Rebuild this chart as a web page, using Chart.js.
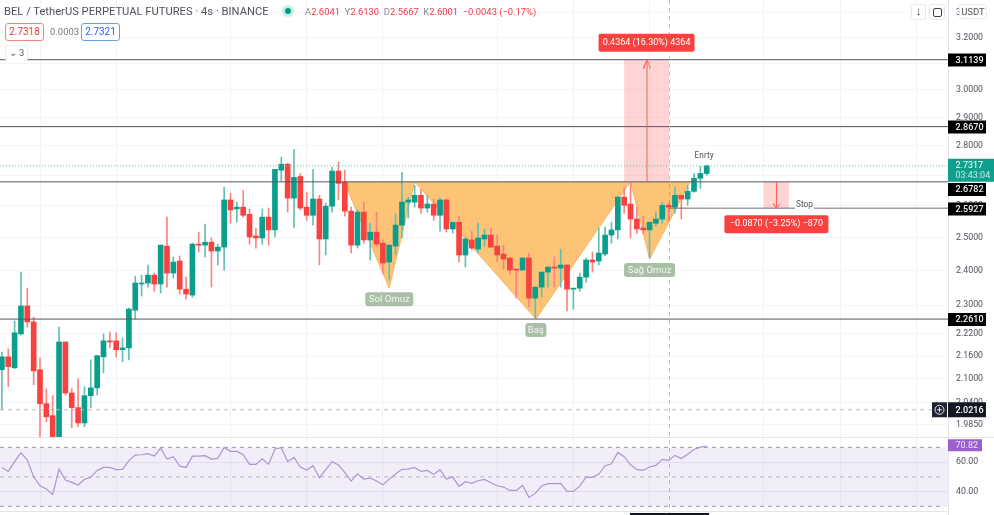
<!DOCTYPE html>
<html>
<head>
<meta charset="utf-8">
<title>BEL / TetherUS</title>
<script src="https://cdn.jsdelivr.net/npm/chart.js@4"></script>
<style>
  html, body { margin: 0; padding: 0; background: #fff; }
  #wrap { position: relative; width: 994px; height: 515px; overflow: hidden; font-family: Roboto, sans-serif; color: #50535e; }
  canvas { position: absolute; left: 0; top: 0; }
  .t { position: absolute; white-space: nowrap; font-size: 11px; line-height: 14px; }
  .chip { position: absolute; box-sizing: border-box; background: #fff; text-align: center; border-radius: 3px; font-size: 10px; line-height: 15px; height: 18px; }
  .btn { position: absolute; box-sizing: border-box; background: #fff; border: 1px solid #e6e8ee; border-radius: 3px; text-align: center; color: #333; }
</style>
</head>
<body>
<div id="wrap">
  <canvas id="chart" width="994" height="515"></canvas>
  <div class="t" style="left:4px;top:5px;font-size:11.2px">BEL / TetherUS PERPETUAL FUTURES · 4s · BINANCE</div>
  <div class="t" style="left:285px;top:8px;width:6px;height:6px;border-radius:50%;background:#089981;box-shadow:0 0 0 3px #c9eee8"></div>
  <div class="t" style="left:305px;top:5px;font-size:9.4px;color:#f23645"><span style="color:#8a8d96">A</span>2.6041 <span style="color:#8a8d96">&nbsp;Y</span>2.6130 <span style="color:#8a8d96">&nbsp;D</span>2.5667 <span style="color:#8a8d96">&nbsp;K</span>2.6001 &nbsp;−0.0043 (−0.17%)</div>
  <div class="chip" style="left:5px;top:23px;width:39px;border:1px solid #f0857f;color:#f23645">2.7318</div>
  <div class="t" style="left:50px;top:25px;font-size:9.5px;color:#787b86">0.0003</div>
  <div class="chip" style="left:81px;top:23px;width:39px;border:1px solid #6b9fe8;color:#2962ff">2.7321</div>
  <div class="chip" style="left:5px;top:45px;width:23px;height:16px;border:1px solid #eceef2;border-bottom:none;font-size:9.5px;line-height:14px;color:#666">⌄ 3</div>
  <div class="btn" style="left:911px;top:4px;width:15px;height:16px;font-size:11px;line-height:14px">↓</div>
  <div class="btn" style="left:929px;top:4px;width:16px;height:16px"><div style="position:absolute;left:3px;top:3px;width:7px;height:7px;border:1px solid #444;border-radius:2px"></div></div>
  <div class="btn" style="left:959px;top:4px;width:28px;height:15px;font-size:9.5px;line-height:13px;color:#555">USDT</div>
  <div style="position:absolute;left:630px;top:513px;width:79px;height:2px;background:#131722"></div>
</div>
<script>
// candles (4h bars)
const opens = [2.124,2.158,2.129,2.220,2.298,2.253,2.124,2.037,2.007,1.955,2.198,2.064,2.027,1.989,2.057,2.077,2.158,2.201,2.201,2.177,
  2.182,2.286,2.361,2.364,2.387,2.361,2.474,2.393,2.429,2.346,2.329,2.480,2.477,2.486,2.459,2.471,2.619,2.590,2.596,2.573,
  2.505,2.499,2.564,2.524,2.717,2.737,2.625,2.696,2.596,2.570,2.622,2.496,2.599,2.714,2.677,2.583,2.477,2.580,2.493,2.517,
  2.483,2.426,2.474,2.539,2.612,2.612,2.634,2.593,2.606,2.570,2.619,2.527,2.548,2.447,2.493,2.465,2.496,2.508,2.474,2.450,
  2.438,2.405,2.402,2.438,2.320,2.352,2.396,2.411,2.408,2.417,2.346,2.349,2.381,2.432,2.429,2.450,2.508,2.524,2.628,2.606,
  2.558,2.530,2.524,2.545,2.558,2.602,2.596,2.634,2.622,2.647,2.690,2.706];
const highs = [2.171,2.179,2.256,2.396,2.349,2.267,2.155,2.075,2.057,2.239,2.198,2.075,2.100,2.080,2.150,2.163,2.220,2.225,2.223,2.209,
  2.292,2.384,2.387,2.417,2.393,2.477,2.564,2.441,2.444,2.381,2.483,2.517,2.542,2.499,2.480,2.660,2.641,2.612,2.650,2.590,
  2.530,2.590,2.593,2.720,2.761,2.741,2.788,2.706,2.644,2.720,2.634,2.609,2.727,2.744,2.717,2.596,2.587,2.612,2.545,2.580,
  2.493,2.480,2.574,2.710,2.628,2.667,2.654,2.634,2.622,2.625,2.622,2.548,2.567,2.502,2.520,2.545,2.527,2.530,2.508,2.477,
  2.438,2.405,2.438,2.453,2.352,2.396,2.411,2.441,2.465,2.417,2.349,2.393,2.438,2.456,2.530,2.533,2.548,2.631,2.660,2.673,
  2.596,2.567,2.548,2.580,2.612,2.609,2.660,2.634,2.667,2.706,2.730,2.734];
const lows = [2.021,2.080,2.127,2.217,2.239,2.085,1.955,1.992,1.955,1.955,2.059,1.977,1.980,1.980,2.027,2.059,2.116,2.182,2.158,2.145,
  2.150,2.261,2.326,2.352,2.340,2.335,2.352,2.378,2.332,2.317,2.323,2.456,2.441,2.352,2.417,2.402,2.545,2.548,2.564,2.480,
  2.468,2.480,2.477,2.502,2.680,2.580,2.530,2.587,2.554,2.539,2.417,2.447,2.580,2.619,2.567,2.453,2.468,2.483,2.432,2.471,
  2.393,2.372,2.447,2.499,2.561,2.596,2.577,2.580,2.554,2.520,2.517,2.514,2.426,2.411,2.462,2.453,2.474,2.471,2.426,2.405,
  2.390,2.320,2.402,2.295,2.264,2.323,2.352,2.352,2.352,2.284,2.289,2.340,2.366,2.396,2.417,2.444,2.483,2.496,2.577,2.499,
  2.514,2.511,2.438,2.536,2.545,2.551,2.577,2.558,2.602,2.644,2.657,2.700];
const closes = [2.158,2.132,2.223,2.298,2.253,2.121,2.037,2.004,1.955,2.198,2.064,2.027,1.989,2.057,2.077,2.161,2.201,2.198,2.177,2.182,
  2.289,2.364,2.364,2.387,2.361,2.477,2.393,2.426,2.346,2.332,2.480,2.477,2.486,2.459,2.471,2.619,2.587,2.596,2.570,2.502,
  2.499,2.564,2.524,2.720,2.737,2.625,2.693,2.593,2.570,2.622,2.496,2.599,2.714,2.673,2.583,2.477,2.580,2.493,2.517,2.480,
  2.423,2.477,2.539,2.612,2.619,2.634,2.593,2.606,2.570,2.619,2.527,2.548,2.447,2.496,2.468,2.499,2.508,2.471,2.447,2.435,
  2.402,2.402,2.438,2.320,2.352,2.396,2.411,2.408,2.417,2.346,2.349,2.381,2.432,2.426,2.453,2.508,2.524,2.628,2.602,2.558,
  2.527,2.524,2.548,2.558,2.602,2.596,2.634,2.622,2.647,2.690,2.706,2.7317];

// rsi under the candles
const rsiValues = [56.4,53.7,60.3,66.4,61.4,50.1,44,41.8,38.1,55.3,47.9,46.3,44.5,48.3,49.7,54.4,56.4,56.4,54.9,55.1,
  61,64.8,65,65.7,64.1,69.5,62.1,63.7,57.3,56.4,64.1,64.1,64.4,62.1,62.5,70,67.3,67.3,65,58.5,
  58.5,62.3,58.5,68.9,69.8,60.3,63.2,56.7,54.6,57.6,49.4,54.9,60.3,58,53,47.2,52.1,48.5,49.2,47.2,
  44.7,48.5,51.9,55.1,55.3,56.4,53.7,54.4,51.7,54.9,48.5,49.9,43.6,46.7,45.6,47.4,48.3,46,44,43.1,
  40.8,40.8,44.2,36.1,38.8,43.8,45.4,45.4,45.6,40.2,40.2,43.8,49.9,49.7,51.7,57.6,58.9,66.6,63.7,58.2,
  55.1,54.4,56.7,57.8,61.9,61.2,64.6,62.5,65.3,68.6,70.2,70.82];

const priceTicks = [3.3,3.2,3.1,3.0,2.9,2.8,2.7,2.6,2.5,2.4,2.3,2.22,2.16,2.1,2.04,1.985];
const rsiTicks = [60,40];
const dayGrid = [6,18,36,48,60,78,90,102,120,132,144];
const levels = [3.1139,2.8670,2.6782,2.2610];
const stopLevel = 2.5927;
const lastPrice = 2.7317;
const alertLevel = 2.0216;
const rsiLast = 70.82;
const rsiBands = [70,50,30];

// inverse head and shoulders, x in bars
const patternX = [53.9,61,65,84.1,99,102,108.4];
const patternY = [2.6782,2.349,2.6782,2.261,2.6782,2.435,2.6782];
const patternNames = ['Sol Omuz','Baş','Sağ Omuz'];
const patternLowIdx = [1,3,5];

const longBox = [98,105.05];
const shortBox = [120,123.95];
const crossBar = 105.05;

const GREEN = '#0b9e8c', RED = '#f9423f', WICK_G = '#63bfb3', WICK_R = '#f98583';
const BAR_MIN = -0.3, BAR_MAX = 149;

const bodies = opens.map((o, i) => ({ x: i, y: [Math.min(o, closes[i]), Math.max(o, closes[i])] }));
const wicks = opens.map((o, i) => ({ x: i, y: [lows[i], highs[i]] }));
const isUp = opens.map((o, i) => closes[i] >= o);

function hLine(y, x0, x1, color, dash, axis, order) {
  return { type: 'line', data: [{ x: x0, y: y }, { x: x1, y: y }], borderColor: color, borderWidth: 1,
    borderDash: dash || [], pointRadius: 0, yAxisID: axis || 'y', order: order || 3, fill: false };
}
function box(x0, x1, y0, y1, color, axis, order) {
  return { type: 'line', data: [{ x: x0, y: y0 }, { x: x1, y: y0 }, { x: x1, y: y1 }, { x: x0, y: y1 }, { x: x0, y: y0 }],
    borderWidth: 0, borderColor: 'transparent', backgroundColor: color, pointRadius: 0, fill: 'shape', tension: 0,
    yAxisID: axis || 'y', order: order || 8 };
}
function arrow(x, from, to, headY) {
  return { type: 'line', data: [{ x: x, y: from }, { x: x, y: to }, { x: x - 0.55, y: headY }, { x: x, y: to }, { x: x + 0.55, y: headY }],
    borderColor: '#f4665f', borderWidth: 1, pointRadius: 0, fill: false, yAxisID: 'y', order: 2 };
}

const datasets = [
  box(BAR_MIN, BAR_MAX, rsiBands[0], rsiBands[2], 'rgba(126,87,194,0.1)', 'rsi', 9),
  hLine(rsiBands[0], BAR_MIN, 148.4, '#9a9ca6', [4, 4], 'rsi'),
  hLine(rsiBands[1], BAR_MIN, 148.4, '#b4b5bd', [4, 4], 'rsi'),
  hLine(rsiBands[2], BAR_MIN, 148.4, '#9a9ca6', [4, 4], 'rsi'),
  { type: 'line', data: rsiValues.map((v, i) => ({ x: i, y: v })), borderColor: '#ab96d0', borderWidth: 1.2,
    pointRadius: 0, fill: false, yAxisID: 'rsi', order: 2, tension: 0 },
  { type: 'line', data: patternX.map((x, i) => ({ x: x, y: patternY[i] })), backgroundColor: '#fdc376',
    borderColor: '#f5b765', borderWidth: 1, pointRadius: 0, fill: 'shape', tension: 0, yAxisID: 'y', order: 7 },
  box(longBox[0], longBox[1], levels[0], levels[2], 'rgba(255,112,112,0.3)'),
  box(shortBox[0], shortBox[1], levels[2], stopLevel, 'rgba(255,112,112,0.3)'),
  { type: 'bar', data: wicks, grouped: false, barThickness: 1, minBarLength: 1, borderWidth: 0, order: 5, yAxisID: 'y',
    backgroundColor: isUp.map(u => u ? WICK_G : WICK_R) },
  { type: 'bar', data: bodies, grouped: false, barThickness: 5, minBarLength: 1, borderWidth: 0, order: 4, yAxisID: 'y',
    backgroundColor: isUp.map(u => u ? GREEN : RED) },
  hLine(levels[0], BAR_MIN, BAR_MAX, '#55565c'),
  hLine(levels[1], BAR_MIN, BAR_MAX, '#55565c'),
  hLine(levels[2], BAR_MIN, BAR_MAX, '#55565c'),
  hLine(levels[3], BAR_MIN, BAR_MAX, '#55565c'),
  hLine(stopLevel, 105, 124.9, '#6d6e74'),
  hLine(stopLevel, 127.9, BAR_MAX, '#6d6e74'),
  hLine(lastPrice, BAR_MIN, BAR_MAX, '#5cc4b7', [1, 2]),
  hLine(alertLevel, BAR_MIN, 146.5, '#bcbec5', [4, 4]),
  arrow(101.6, levels[2], levels[0], 3.08),
  arrow(122, levels[2], stopLevel, 2.607)
];

function fillBox(ctx, x, y, w, h, color, r) {
  ctx.fillStyle = color;
  ctx.beginPath();
  ctx.roundRect(x, y, w, h, r || 0);
  ctx.fill();
}
function putText(ctx, text, x, y, color, font, align) {
  ctx.fillStyle = color;
  ctx.font = font;
  ctx.textAlign = align || 'left';
  ctx.textBaseline = 'middle';
  ctx.fillText(text, x, y);
}

// labels, tags and the crosshair sit on top of the datasets
const overlay = {
  id: 'overlay',
  afterLayout(chart) {
    // rsi scale takes no room of its own but its labels clip to its box, so lend it the price axis strip
    const r = chart.scales.rsi, y = chart.scales.y;
    r.left = y.left;
    r.right = y.right;
    r.width = y.width;
  },
  afterDraw(chart) {
    const ctx = chart.ctx, sx = chart.scales.x, sy = chart.scales.y, sr = chart.scales.rsi;
    const axisX = sy.left;
    const font = '9px Roboto';
    const paneBottom = 437;
    ctx.save();

    // crosshair
    ctx.strokeStyle = 'rgba(120,123,134,0.45)';
    ctx.setLineDash([4, 4]);
    ctx.beginPath();
    const cx = Math.round(sx.getPixelForValue(crossBar)) + 0.5;
    ctx.moveTo(cx, 0);
    ctx.lineTo(cx, 515);
    ctx.stroke();
    ctx.setLineDash([]);

    // pane separators and price axis border
    ctx.strokeStyle = '#e3e5ea';
    ctx.beginPath();
    ctx.moveTo(0, paneBottom + 0.5); ctx.lineTo(994, paneBottom + 0.5);
    ctx.moveTo(0, 511.5); ctx.lineTo(948, 511.5);
    ctx.moveTo(axisX + 0.5, 0); ctx.lineTo(axisX + 0.5, 515);
    ctx.stroke();

    // pattern names
    const boxW = [48, 21, 51];
    patternNames.forEach((name, i) => {
      const k = patternLowIdx[i];
      const px = sx.getPixelForValue(patternX[k]), py = sy.getPixelForValue(patternY[k]);
      fillBox(ctx, px - boxW[i] / 2, py + 4, boxW[i], 14, '#a9bfa6', 3);
      putText(ctx, name, px, py + 11.5, '#f3f6f1', '9.6px Roboto', 'center');
    });

    putText(ctx, 'Enrty', sx.getPixelForValue(110.9) - 2, 156, '#555', '8.3px Roboto', 'center');
    putText(ctx, 'Stop', sx.getPixelForValue(126.4), sy.getPixelForValue(stopLevel) - 3.5, '#555', '8.3px Roboto', 'center');

    // trade labels
    const longX = sx.getPixelForValue((longBox[0] + longBox[1]) / 2);
    fillBox(ctx, longX - 48, sy.getPixelForValue(levels[0]) - 26, 96, 18, '#f9423f', 2);
    putText(ctx, '0.4364 (16.30%) 4364', longX, sy.getPixelForValue(levels[0]) - 17, '#fff', font, 'center');
    const shortX = sx.getPixelForValue((shortBox[0] + shortBox[1]) / 2);
    fillBox(ctx, shortX - 52, sy.getPixelForValue(stopLevel) + 7, 104, 18, '#f9423f', 2);
    putText(ctx, '−0.0870 (−3.25%) −870', shortX, sy.getPixelForValue(stopLevel) + 16, '#fff', font, 'center');

    // price tags on the axis
    const tagY = { 3.1139: 60, 2.867: 127, 2.6782: 189.5, 2.5927: 209, 2.261: 319.5 };
    [...levels, stopLevel].forEach(v => {
      const c = tagY[v];
      fillBox(ctx, axisX, c - 6.5, 38, 13, '#000');
      putText(ctx, v.toFixed(4), axisX + 7.5, c + 0.5, '#f2f2f2', '500 ' + font);
    });
    const lp = sy.getPixelForValue(lastPrice);
    fillBox(ctx, axisX, lp - 7, 46, 23, '#0f9f8d');
    putText(ctx, lastPrice.toFixed(4), axisX + 7.5, lp, '#fff', font);
    putText(ctx, '03:43:04', axisX + 7.5, lp + 10, '#c5ece6', font);

    const ap = sy.getPixelForValue(alertLevel);
    fillBox(ctx, axisX - 16, ap - 7.5, 15, 15, '#1d2330');
    ctx.strokeStyle = '#e8e8ec';
    ctx.beginPath(); ctx.arc(axisX - 8.5, ap, 4.5, 0, Math.PI * 2);
    ctx.moveTo(axisX - 11, ap); ctx.lineTo(axisX - 6, ap);
    ctx.moveTo(axisX - 8.5, ap - 2.5); ctx.lineTo(axisX - 8.5, ap + 2.5); ctx.stroke();
    fillBox(ctx, axisX, ap - 7.5, 38, 15, '#131722');
    putText(ctx, alertLevel.toFixed(4), axisX + 7.5, ap + 0.5, '#fff', '500 ' + font);

    const rp = sr.getPixelForValue(rsiLast);
    fillBox(ctx, axisX, rp - 7, 34, 12, '#9b5fcf');
    putText(ctx, rsiLast.toFixed(2), axisX + 7.5, rp - 0.5, '#f1e9f8', font);
    ctx.restore();
  }
};

// tick labels must not push the plot in from the canvas edges
function fitAxis(width) {
  return s => { s.width = width; s.paddingTop = 0; s.paddingBottom = 0; };
}

// both panes share the plot height: each scale's range is wide enough to land its values in its own strip
new Chart(document.getElementById('chart'), {
  type: 'bar',
  data: { datasets },
  options: {
    responsive: false,
    animation: false,
    layout: { padding: { bottom: 3 } },
    plugins: { legend: { display: false }, tooltip: { enabled: false } },
    scales: {
      x: {
        type: 'linear', min: BAR_MIN, max: BAR_MAX, position: 'bottom', offset: false,
        border: { display: false },
        grid: { color: '#f1f3f8', drawTicks: false, offset: false },
        ticks: { display: false },
        afterBuildTicks: s => { s.ticks = dayGrid.map(v => ({ value: v })); }
      },
      rsi: {
        type: 'linear', position: 'right', min: 26.2, max: 373.3, weight: 1,
        border: { display: false },
        grid: { color: '#eceaf4', drawTicks: false },
        ticks: { autoSkip: false, padding: 8, maxRotation: 0, color: '#50535e', font: { family: 'Roboto', size: 8.8 }, callback: v => v.toFixed(2) },
        afterBuildTicks: s => { s.ticks = rsiTicks.map(v => ({ value: v })); },
        afterFit: fitAxis(0)
      },
      y: {
        type: 'logarithmic', position: 'right', min: 1.782, max: 3.352, bounds: 'data', weight: 2,
        border: { display: false },
        grid: { color: '#f3f5f9', drawTicks: false },
        ticks: { autoSkip: false, padding: 8, maxRotation: 0, color: '#50535e', font: { family: 'Roboto', size: 8.8 }, callback: v => v.toFixed(4) },
        afterBuildTicks: s => { s.ticks = priceTicks.map(v => ({ value: v })); },
        afterFit: fitAxis(46)
      }
    }
  },
  plugins: [overlay]
});
</script>
</body>
</html>
